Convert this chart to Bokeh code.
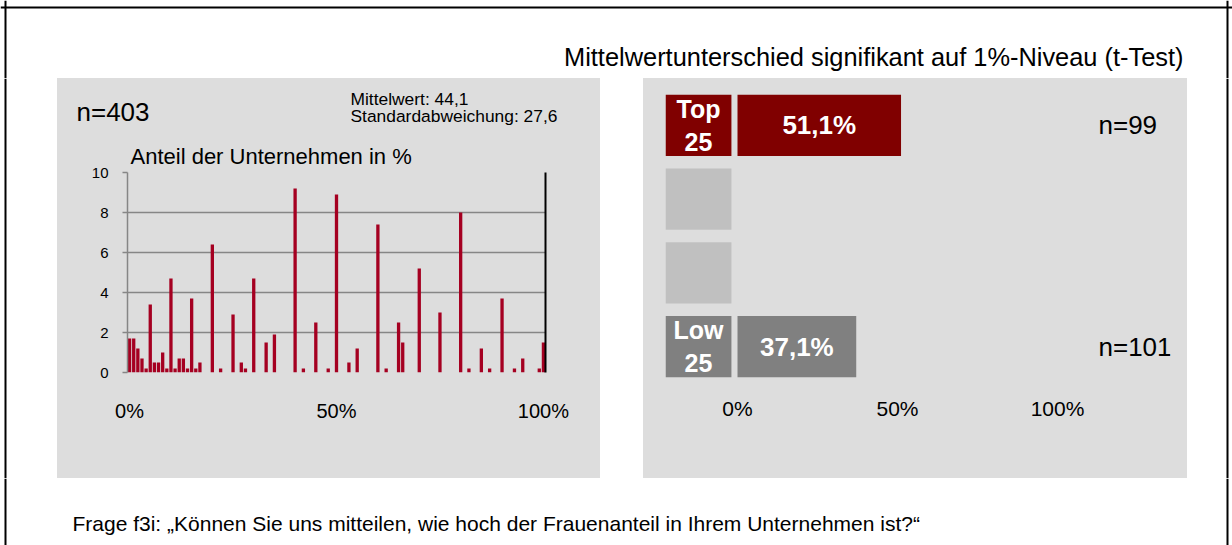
from bokeh.plotting import figure
from bokeh.models import Range1d, FactorRange, FixedTicker, LinearAxis, Span, Spacer, Title
from bokeh.layouts import column, row
from bokeh.embed import file_html
from bokeh.resources import INLINE
from bokeh.core.properties import value

FONT = "Liberation Sans"
BG = "#DDDDDD"

# ---------------- data ----------------
# Histogram: share of companies (%) by female share (%)
hist_pct = [0, 1, 2, 3, 4, 5, 6, 7, 8, 9, 10, 11, 12, 13, 14, 15, 16, 17, 20, 22,
            25, 27, 28, 30, 33, 35, 40, 42, 45, 48, 50, 53, 55, 60, 62, 65, 66, 70,
            75, 80, 82, 85, 87, 90, 93, 95, 99, 100]
hist_share = [1.7, 1.7, 1.2, 0.7, 0.2, 3.4, 0.5, 0.5, 1.0, 0.2, 4.7, 0.2, 0.7, 0.7, 0.2, 3.7, 0.2, 0.5, 6.4, 0.2,
              2.9, 0.5, 0.2, 4.7, 1.5, 1.9, 9.2, 0.2, 2.5, 0.2, 8.9, 0.5, 1.2, 7.4, 0.2, 2.5, 1.5, 5.2,
              3.0, 8.0, 0.2, 1.2, 0.2, 3.7, 0.2, 0.7, 0.2, 1.5]
hist_xticks = [0, 50, 100]
hist_xlabels = ["0%", "50%", "100%"]
hist_yticks = [0, 2, 4, 6, 8, 10]
n_total = "n=403"
mean_txt = "Mittelwert: 44,1"
sd_txt = "Standardabweichung: 27,6"
hist_ylabel = "Anteil der Unternehmen in %"

# Group comparison
group_ids = ["top", "mid1", "mid2", "low"]
group_labels = ["Top\n25", "", "", "Low\n25"]
group_colors = ["#800000", "#C0C0C0", "#C0C0C0", "#808080"]
bar_ids = ["top", "low"]
bar_values = [51.1, 37.1]
bar_labels = ["51,1%", "37,1%"]
bar_colors = ["#800000", "#808080"]
bar_n = ["n=99", "n=101"]
cmp_xticks = [0, 50, 100]
cmp_xlabels = ["0%", "50%", "100%"]

title_txt = "Mittelwertunterschied signifikant auf 1%-Niveau (t-Test)"
footer_txt = "Frage f3i: \u201eKönnen Sie uns mitteilen, wie hoch der Frauenanteil in Ihrem Unternehmen ist?\u201c"

# layout constants
LABEL_BOX_LEFT = -22.5
LABEL_BOX_RIGHT = -1.9
N_TEXT_X = 112.8


def blank(w, h, bg="white"):
    p = figure(width=w, height=h, x_range=Range1d(0, w), y_range=Range1d(0, h),
               output_backend="svg", toolbar_location=None, min_border=0,
               x_axis_location=None, y_axis_location=None,
               background_fill_color=bg, border_fill_color=bg,
               outline_line_color=None, frame_align=False)
    p.grid.visible = False
    return p


def vline(p, x):
    p.add_layout(Span(location=x, dimension="height", line_color="black", line_width=2))


# ---------------- top band ----------------
top = blank(1232, 78)
top.text(x=[1183], y=[21.3], text=[title_txt], text_font=value(FONT), text_font_size="25.4px",
         text_align="right", text_baseline="alphabetic", text_color="black")
vline(top, 5)
vline(top, 1227)
top.add_layout(Span(location=71, dimension="width", line_color="black", line_width=2))

# ---------------- left panel: header texts ----------------
hdr = blank(543, 52, BG)
hdr.text(x=[19], y=[19], text=[n_total], text_font=value(FONT), text_font_size="26px",
         text_baseline="alphabetic", text_color="black")
hdr.text(x=[293, 293], y=[32, 14.5], text=[mean_txt, sd_txt], text_font=value(FONT),
         text_font_size="17.4px", text_baseline="alphabetic", text_color="black")

# ---------------- left panel: histogram ----------------
lp = figure(width=543, height=348, x_range=Range1d(-0.5, 100.5), y_range=Range1d(0, 10),
            output_backend="svg", toolbar_location=None, frame_align=False,
            min_border_left=70, min_border_right=55, min_border_top=42, min_border_bottom=106,
            background_fill_color=None, border_fill_color=BG, outline_line_color=None)
lp.vbar(x=hist_pct, top=hist_share, width=0.8, fill_color="#A50021", line_color=None)
lp.add_layout(Title(text=hist_ylabel, align="left", offset=3, standoff=8,
                    text_font=FONT, text_font_size="22px", text_font_style="normal",
                    text_color="black"), "above")

lp.xgrid.visible = False
lp.ygrid.ticker = FixedTicker(ticks=hist_yticks)
lp.ygrid.grid_line_color = "#868686"
lp.ygrid.grid_line_width = 1.5

xa = lp.xaxis[0]
xa.ticker = FixedTicker(ticks=hist_xticks)
xa.major_label_overrides = {t: l for t, l in zip(hist_xticks, hist_xlabels)}
xa.axis_line_color = None
xa.major_tick_line_color = None
xa.minor_tick_line_color = None
xa.major_label_text_font = FONT
xa.major_label_text_font_size = "20px"
xa.major_label_text_color = "black"
xa.major_label_standoff = 21

ya = lp.yaxis[0]
ya.ticker = FixedTicker(ticks=hist_yticks)
ya.axis_line_color = "#868686"
ya.axis_line_width = 1.5
ya.major_tick_line_color = "#868686"
ya.major_tick_line_width = 1.5
ya.major_tick_out = 5
ya.major_tick_in = 0
ya.minor_tick_line_color = None
ya.major_label_text_font = FONT
ya.major_label_text_font_size = "15px"
ya.major_label_text_color = "black"
ya.major_label_standoff = 14

ra = LinearAxis(ticker=FixedTicker(ticks=[]), axis_line_color="black", axis_line_width=2,
                major_tick_line_color=None, minor_tick_line_color=None,
                major_label_text_font_size="0px")
lp.add_layout(ra, "right")

left_panel = column(hdr, lp, spacing=0, styles={"background-color": BG})

# ---------------- right panel: group comparison ----------------
rp = figure(width=544, height=400, x_range=Range1d(-22.5, 135.3),
            y_range=FactorRange(factors=list(reversed(group_ids))),
            output_backend="svg", toolbar_location=None, frame_align=False,
            min_border_left=22, min_border_right=17, min_border_top=10, min_border_bottom=95,
            background_fill_color=None, border_fill_color=BG, outline_line_color=None)
rp.hbar(y=group_ids, left=LABEL_BOX_LEFT, right=LABEL_BOX_RIGHT, height=0.83,
        fill_color=group_colors, line_color=None)
rp.hbar(y=bar_ids, left=0, right=bar_values, height=0.83, fill_color=bar_colors, line_color=None)
rp.text(x=(LABEL_BOX_LEFT + LABEL_BOX_RIGHT) / 2, y=group_ids, text=group_labels,
        text_font=value(FONT), text_font_style="bold", text_font_size="25px",
        text_color="white", text_align="center", text_baseline="middle", text_line_height=1.2)
rp.text(x=[v / 2 for v in bar_values], y=bar_ids, text=bar_labels,
        text_font=value(FONT), text_font_style="bold", text_font_size="26px",
        text_color="white", text_align="center", text_baseline="middle")
rp.text(x=N_TEXT_X, y=bar_ids, text=bar_n, text_font=value(FONT), text_font_size="26px",
        text_color="black", text_align="left", text_baseline="middle")
rp.grid.visible = False
rp.yaxis.visible = False
rxa = rp.xaxis[0]
rxa.ticker = FixedTicker(ticks=cmp_xticks)
rxa.major_label_overrides = {t: l for t, l in zip(cmp_xticks, cmp_xlabels)}
rxa.axis_line_color = None
rxa.major_tick_line_color = None
rxa.minor_tick_line_color = None
rxa.major_label_text_font = FONT
rxa.major_label_text_font_size = "21px"
rxa.major_label_text_color = "black"
rxa.major_label_standoff = 7

right_panel = column(rp, spacing=0, styles={"background-color": BG})

# ---------------- edges & bottom ----------------
edge_l = blank(57, 400)
vline(edge_l, 5)
edge_r = blank(45, 400)
vline(edge_r, 40)

bot = blank(1232, 67)
bot.text(x=[72], y=[22], text=[footer_txt], text_font=value(FONT), text_font_size="21px",
         text_align="left", text_baseline="alphabetic", text_color="black")
vline(bot, 5)
vline(bot, 1227)

mid = row(edge_l, left_panel, Spacer(width=43, height=400), right_panel, edge_r, spacing=0)
layout = column(top, mid, bot, spacing=0)

open("out.html", "w").write(file_html(layout, INLINE))
